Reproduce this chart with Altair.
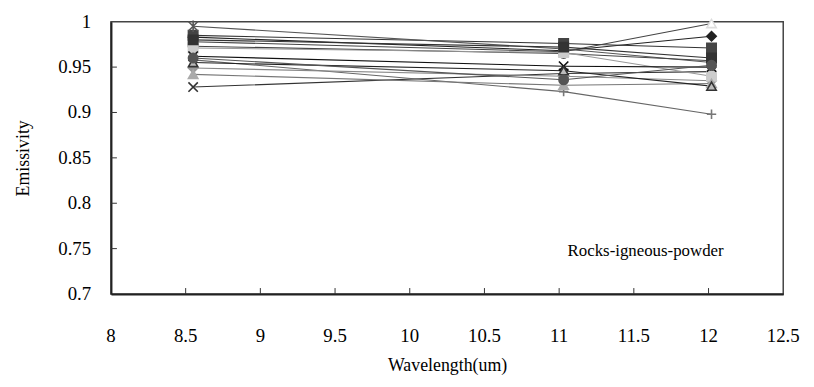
import altair as alt
import pandas as pd

# ---- data ----
wavelengths = [8.55, 11.03, 12.02]

series_names = ["S01", "S02", "S03", "S04", "S05", "S06", "S07",
                "S08", "S09", "S10", "S11", "S12", "S13", "S14"]
s01 = [0.983, 0.968, 0.984]
s02 = [0.985, 0.976, 0.971]
s03 = [0.978, 0.967, 0.998]
s04 = [0.928, 0.943, 0.945]
s05 = [0.995, 0.970, 0.955]
s06 = [0.973, 0.965, 0.957]
s07 = [0.958, 0.923, 0.898]
s08 = [0.949, 0.940, 0.935]
s09 = [0.971, 0.966, 0.940]
s10 = [0.942, 0.930, 0.932]
s11 = [0.962, 0.951, 0.950]
s12 = [0.980, 0.972, 0.960]
s13 = [0.955, 0.946, 0.929]
s14 = [0.960, 0.936, 0.952]
all_series = [s01, s02, s03, s04, s05, s06, s07, s08, s09, s10, s11, s12, s13, s14]

x_ticks = [8, 8.5, 9, 9.5, 10, 10.5, 11, 11.5, 12, 12.5]
x_tick_labels = ["8", "8.5", "9", "9.5", "10", "10.5", "11", "11.5", "12", "12.5"]
y_ticks = [0.7, 0.75, 0.8, 0.85, 0.9, 0.95, 1.0]
y_tick_labels = ["0.7", "0.75", "0.8", "0.85", "0.9", "0.95", "1"]
annotation = "Rocks-igneous-powder"

# ---- styles ----
X_PATH = "M-1,-1L1,1M-1,1L1,-1"
PLUS_PATH = "M-1,0L1,0M0,-1L0,1"
STAR_PATH = "M-1,-1L1,1M-1,1L1,-1M0,-1.2L0,1.2"
shapes = ["diamond", "square", "triangle-up", X_PATH, STAR_PATH, "circle", PLUS_PATH,
          "diamond", "square", "triangle-up", X_PATH, "square", "triangle-up", "circle"]
fills = ["#222222", "#444444", "#ffffff", "transparent", "transparent", "#ffffff", "transparent",
         "#999999", "#cccccc", "#aaaaaa", "transparent", "#333333", "#bbbbbb", "#555555"]
strokes = ["#222222", "#444444", "#dddddd", "#333333", "#555555", "#555555", "#777777",
           "#999999", "#cccccc", "#aaaaaa", "#111111", "#333333", "#333333", "#555555"]
line_colors = ["#222222", "#333333", "#444444", "#333333", "#555555", "#444444", "#666666",
               "#888888", "#999999", "#777777", "#111111", "#333333", "#222222", "#555555"]

rows = []
for name, vals in zip(series_names, all_series):
    for w, v in zip(wavelengths, vals):
        rows.append({"series": name, "wavelength": w, "emissivity": v})
df = pd.DataFrame(rows)

FONT = "Liberation Serif"

xscale = alt.Scale(domain=[8, 12.5], nice=False, zero=False)
yscale = alt.Scale(domain=[0.7, 1.0], nice=False, zero=False)

x_axis = alt.Axis(title="Wavelength(um)", values=x_ticks, labels=False,
                  titleFont=FONT, titleFontSize=18, titleColor="black", titleFontWeight="normal",
                  tickSize=0, titlePadding=63,
                  domainColor="#222222", domainWidth=2, grid=False)
y_axis = alt.Axis(title="Emissivity", values=y_ticks, labels=False,
                  titleFont=FONT, titleFontSize=18, titleColor="black", titleFontWeight="normal",
                  tickSize=0, titlePadding=79,
                  domainColor="#222222", domainWidth=2, grid=False)

lines = alt.Chart(df).mark_line(strokeWidth=1.1).encode(
    x=alt.X("wavelength:Q", scale=xscale, axis=x_axis),
    y=alt.Y("emissivity:Q", scale=yscale, axis=y_axis),
    color=alt.Color("series:N", scale=alt.Scale(domain=series_names, range=line_colors), legend=None),
    detail="series:N",
)

points = alt.Chart(df).mark_point(size=90, strokeWidth=1.6, opacity=1).encode(
    x=alt.X("wavelength:Q", scale=xscale, axis=x_axis),
    y=alt.Y("emissivity:Q", scale=yscale, axis=y_axis),
    shape=alt.Shape("series:N", scale=alt.Scale(domain=series_names, range=shapes), legend=None),
    fill=alt.Fill("series:N", scale=alt.Scale(domain=series_names, range=fills), legend=None),
    stroke=alt.Stroke("series:N", scale=alt.Scale(domain=series_names, range=strokes), legend=None),
)

xt = pd.DataFrame({"wavelength": x_ticks[1:-1]})
x_tick_marks = alt.Chart(xt).mark_rule(color="#333333", strokeWidth=1).encode(
    x=alt.X("wavelength:Q", scale=xscale, axis=x_axis), y=alt.value(275), y2=alt.value(269))

yt = pd.DataFrame({"emissivity": y_ticks[1:-1]})
y_tick_marks = alt.Chart(yt).mark_rule(color="#333333", strokeWidth=1).encode(
    y=alt.Y("emissivity:Q", scale=yscale, axis=y_axis), x=alt.value(0), x2=alt.value(6))

xl = pd.DataFrame({"wavelength": x_ticks, "lab": x_tick_labels})
x_labels = alt.Chart(xl).mark_text(
    font=FONT, fontSize=19, color="black", align="center", baseline="middle"
).encode(x=alt.X("wavelength:Q", scale=xscale, axis=x_axis), y=alt.value(317), text="lab:N")

yl = pd.DataFrame({"emissivity": y_ticks, "lab": y_tick_labels})
y_labels = alt.Chart(yl).mark_text(
    font=FONT, fontSize=19, color="black", align="right", baseline="middle"
).encode(y=alt.Y("emissivity:Q", scale=yscale, axis=y_axis), x=alt.value(-20), text="lab:N")

label = alt.Chart(pd.DataFrame({"t": [annotation]})).mark_text(
    font=FONT, fontSize=17, color="black", align="center", baseline="middle"
).encode(text="t:N", x=alt.value(540), y=alt.value(232))

chart = alt.layer(lines, points, x_tick_marks, y_tick_marks, x_labels, y_labels, label).resolve_scale(
    color="independent", fill="independent", stroke="independent", shape="independent"
).properties(
    width=679, height=275,
    background="white",
    autosize=alt.AutoSizeParams(type="none"),
    padding={"left": 104, "top": 12, "right": 23, "bottom": 84},
).configure_view(
    stroke="#444444", strokeWidth=1.5
)

chart.save("out.html", embed_options={"renderer": "svg", "actions": False})
